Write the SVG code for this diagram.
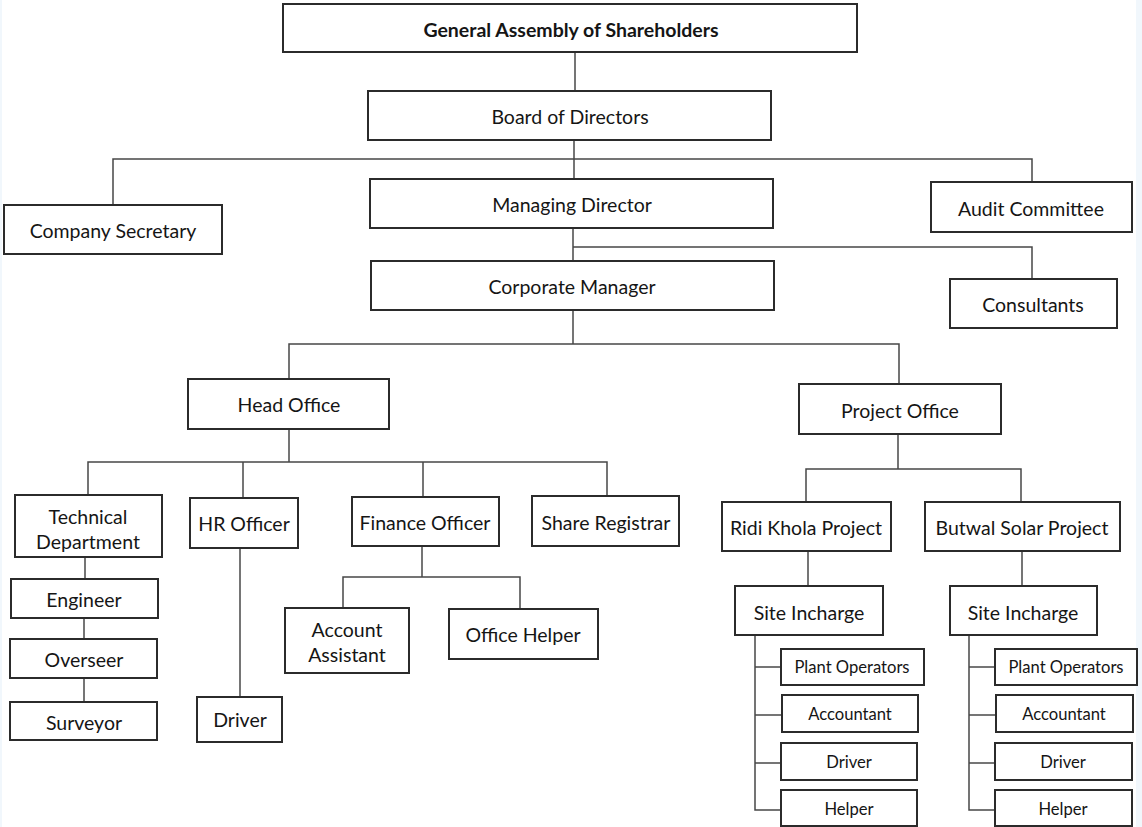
<svg xmlns="http://www.w3.org/2000/svg" width="1142" height="827" viewBox="0 0 1142 827">
<style>
.bg{fill:#ffffff}
.edge{fill:#f1f7fc}
.node rect{fill:#ffffff;stroke:#2b2b2b;stroke-width:2}
.node text{font-family:Lato,"Liberation Sans",sans-serif;font-size:19.5px;fill:#151515;text-anchor:middle;dominant-baseline:central}
.node text.b{font-weight:bold}
.node text.s{font-size:16.6px}
#connectors path{fill:none;stroke:#474747;stroke-width:1.5}
</style>
<rect class="bg" x="0" y="0" width="1142" height="827"/>
<rect class="edge" x="0" y="0" width="2" height="827"/>
<rect class="edge" x="1136" y="0" width="6" height="827"/>
<g id="connectors">
<path d="M575 52V91"/>
<path d="M574 140V179"/>
<path d="M113 205V159H1032V182"/>
<path d="M573 228V261"/>
<path d="M573 247H1032V279"/>
<path d="M573 310V344"/>
<path d="M289 379V344H899V385"/>
<path d="M289 429V462"/>
<path d="M88 495V462H607V496"/>
<path d="M243 462V498"/>
<path d="M423 462V497"/>
<path d="M85 557V579"/>
<path d="M84 618V639"/>
<path d="M84 678V702"/>
<path d="M240 548V697"/>
<path d="M422 546V577"/>
<path d="M343 608V577H520V609"/>
<path d="M898 434V469"/>
<path d="M806 502V469H1021V502"/>
<path d="M808 551V586"/>
<path d="M1022 551V586"/>
<path d="M755 635V810H781"/>
<path d="M755 667H781"/>
<path d="M755 715H782"/>
<path d="M755 763H781"/>
<path d="M969 635V810H995"/>
<path d="M969 667H995"/>
<path d="M969 715H996"/>
<path d="M969 763H995"/>
</g>
<g id="n-general-assembly" class="node"><rect x="283" y="4" width="574" height="48"/><text class="b" x="571" y="29">General Assembly of Shareholders</text></g>
<g id="n-board" class="node"><rect x="368" y="91" width="403" height="49"/><text x="570" y="116">Board of Directors</text></g>
<g id="n-company-secretary" class="node"><rect x="4" y="205" width="218" height="49"/><text x="113" y="230">Company Secretary</text></g>
<g id="n-managing-director" class="node"><rect x="370" y="179" width="403" height="49"/><text x="572" y="204">Managing Director</text></g>
<g id="n-audit-committee" class="node"><rect x="931" y="182" width="201" height="50"/><text x="1031" y="208">Audit Committee</text></g>
<g id="n-corporate-manager" class="node"><rect x="371" y="261" width="403" height="49"/><text x="572" y="286">Corporate Manager</text></g>
<g id="n-consultants" class="node"><rect x="950" y="279" width="167" height="49"/><text x="1033" y="304">Consultants</text></g>
<g id="n-head-office" class="node"><rect x="188" y="379" width="201" height="50"/><text x="289" y="404">Head Office</text></g>
<g id="n-project-office" class="node"><rect x="799" y="384" width="202" height="50"/><text x="900" y="410">Project Office</text></g>
<g id="n-technical" class="node"><rect x="15" y="495" width="147" height="62"/><text x="88" y="516">Technical</text><text x="88" y="541">Department</text></g>
<g id="n-hr" class="node"><rect x="190" y="498" width="108" height="50"/><text x="244" y="523">HR Officer</text></g>
<g id="n-finance" class="node"><rect x="352" y="497" width="147" height="49"/><text x="425" y="522">Finance Officer</text></g>
<g id="n-share-registrar" class="node"><rect x="532" y="496" width="147" height="50"/><text x="606" y="522">Share Registrar</text></g>
<g id="n-engineer" class="node"><rect x="11" y="579" width="147" height="39"/><text x="84" y="599">Engineer</text></g>
<g id="n-overseer" class="node"><rect x="10" y="639" width="147" height="39"/><text x="84" y="659">Overseer</text></g>
<g id="n-surveyor" class="node"><rect x="10" y="702" width="147" height="38"/><text x="84" y="722">Surveyor</text></g>
<g id="n-driver-ho" class="node"><rect x="197" y="697" width="85" height="45"/><text x="240" y="719">Driver</text></g>
<g id="n-account-assistant" class="node"><rect x="285" y="608" width="124" height="65"/><text x="347" y="629">Account</text><text x="347" y="654">Assistant</text></g>
<g id="n-office-helper" class="node"><rect x="449" y="609" width="149" height="50"/><text x="523" y="634">Office Helper</text></g>
<g id="n-ridi" class="node"><rect x="722" y="502" width="169" height="49"/><text x="806" y="527">Ridi Khola Project</text></g>
<g id="n-butwal" class="node"><rect x="925" y="502" width="195" height="49"/><text x="1022" y="527">Butwal Solar Project</text></g>
<g id="n-site-ridi" class="node"><rect x="735" y="586" width="148" height="49"/><text x="809" y="612">Site Incharge</text></g>
<g id="n-site-butwal" class="node"><rect x="950" y="586" width="147" height="49"/><text x="1023" y="612">Site Incharge</text></g>
<g id="n-plant-ridi" class="node"><rect x="781" y="649" width="143" height="36"/><text class="s" x="852" y="667">Plant Operators</text></g>
<g id="n-acc-ridi" class="node"><rect x="782" y="695" width="136" height="37"/><text class="s" x="850" y="714">Accountant</text></g>
<g id="n-drv-ridi" class="node"><rect x="781" y="743" width="136" height="37"/><text class="s" x="849" y="762">Driver</text></g>
<g id="n-help-ridi" class="node"><rect x="781" y="790" width="136" height="36"/><text class="s" x="849" y="809">Helper</text></g>
<g id="n-plant-butwal" class="node"><rect x="995" y="649" width="142" height="36"/><text class="s" x="1066" y="667">Plant Operators</text></g>
<g id="n-acc-butwal" class="node"><rect x="996" y="695" width="137" height="37"/><text class="s" x="1064" y="714">Accountant</text></g>
<g id="n-drv-butwal" class="node"><rect x="995" y="743" width="137" height="37"/><text class="s" x="1063" y="762">Driver</text></g>
<g id="n-help-butwal" class="node"><rect x="995" y="790" width="137" height="36"/><text class="s" x="1063" y="809">Helper</text></g>
</svg>
